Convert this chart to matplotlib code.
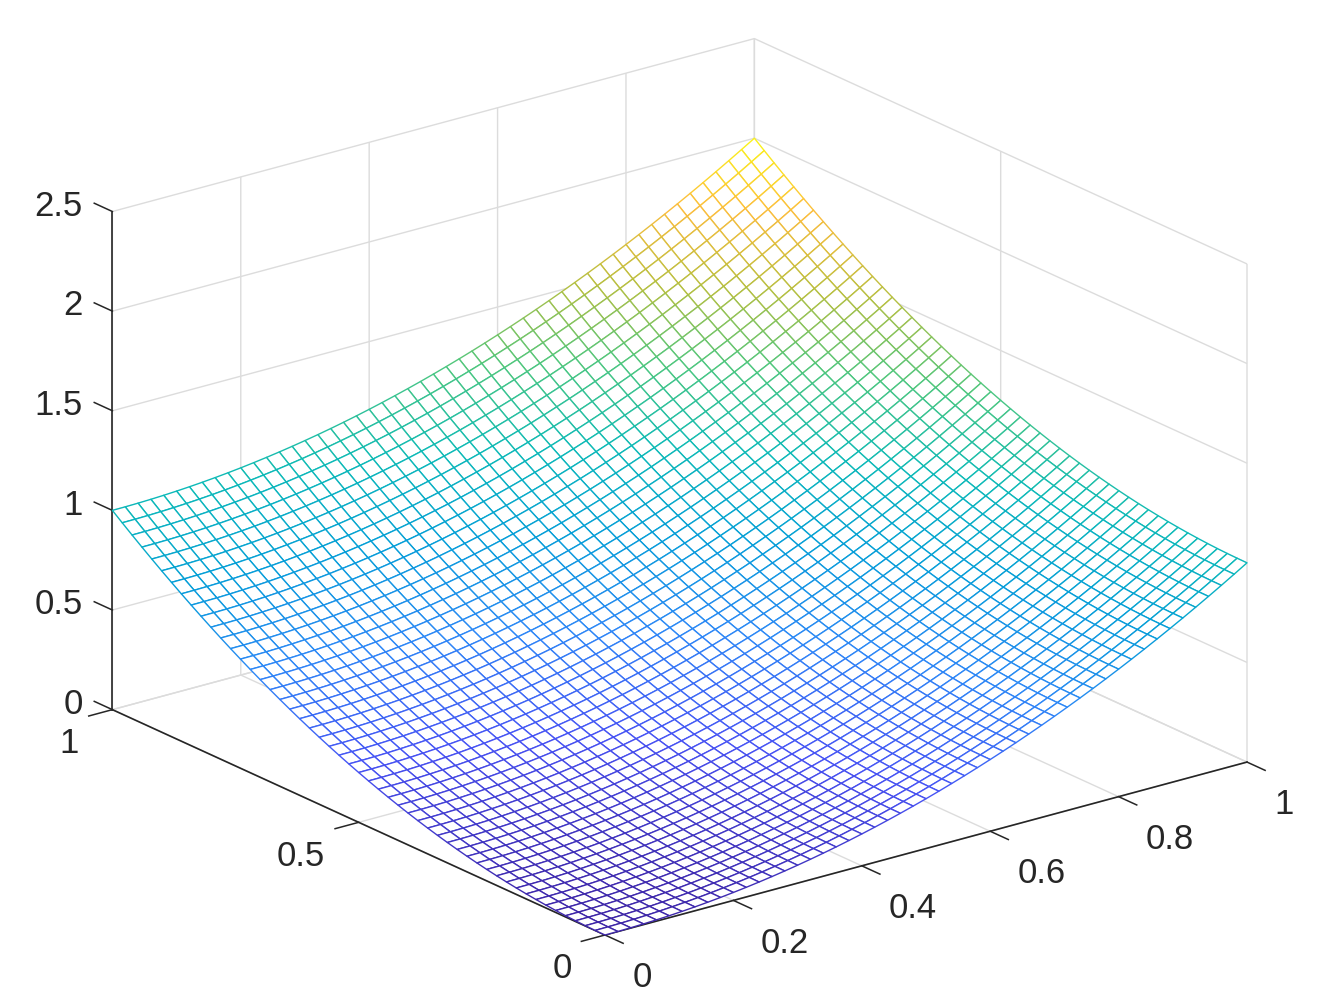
import numpy as np
import matplotlib
matplotlib.use("Agg")
import matplotlib.pyplot as plt
from matplotlib.colors import LinearSegmentedColormap
from mpl_toolkits.mplot3d import proj3d

plt.rcParams['font.family'] = ['Liberation Sans', 'DejaVu Sans']
plt.rcParams['grid.color'] = '#dcdcdc'
plt.rcParams['grid.linewidth'] = 1.0

x_values = [0,.02,.04,.06,.08,.1,.12,.14,.16,.18,.2,.22,.24,.26,.28,.3,.32,.34,.36,.38,.4,.42,.44,.46,.48,.5,.52,.54,.56,.58,.6,.62,.64,.66,.68,.7,.72,.74,.76,.78,.8,.82,.84,.86,.88,.9,.92,.94,.96,.98,1]
y_values = [0,.02,.04,.06,.08,.1,.12,.14,.16,.18,.2,.22,.24,.26,.28,.3,.32,.34,.36,.38,.4,.42,.44,.46,.48,.5,.52,.54,.56,.58,.6,.62,.64,.66,.68,.7,.72,.74,.76,.78,.8,.82,.84,.86,.88,.9,.92,.94,.96,.98,1]
# Surface heights, in units of 1/10000
z_rows = [
[0,4,16,36,64,100,144,196,256,324,400,484,576,676,784,900,1024,1156,1296,1444,1600,1764,1936,2116,2304,2500,2704,2916,3136,3364,3600,3844,4096,4356,4624,4900,5184,5476,5776,6084,6400,6724,7056,7396,7744,8100,8464,8836,9216,9604,10000],
[4,8,20,40,68,104,148,200,260,328,404,488,580,680,788,904,1028,1160,1300,1448,1604,1768,1940,2120,2308,2504,2708,2920,3140,3368,3604,3848,4100,4360,4628,4904,5188,5480,5780,6088,6404,6728,7060,7400,7748,8104,8468,8840,9220,9608,10004],
[16,20,32,52,80,116,160,212,272,340,416,500,592,692,800,916,1040,1172,1312,1460,1616,1780,1952,2132,2320,2516,2720,2932,3152,3380,3616,3860,4112,4372,4640,4916,5200,5492,5792,6100,6416,6740,7072,7412,7760,8116,8480,8852,9232,9620,10016],
[36,40,52,72,100,136,180,232,292,360,436,520,612,712,820,936,1060,1192,1332,1480,1636,1800,1972,2152,2340,2536,2740,2952,3172,3400,3636,3880,4132,4392,4660,4936,5220,5512,5812,6120,6436,6760,7092,7432,7780,8136,8500,8872,9252,9640,10036],
[64,68,80,100,128,164,208,260,320,388,464,548,640,740,848,964,1088,1220,1360,1508,1664,1828,2000,2180,2368,2564,2768,2980,3200,3428,3664,3908,4160,4420,4688,4964,5248,5540,5840,6148,6464,6788,7120,7460,7808,8164,8528,8900,9280,9668,10064],
[100,104,116,136,164,200,244,296,356,424,500,584,676,776,884,1000,1124,1256,1396,1544,1700,1864,2036,2216,2404,2600,2804,3016,3236,3464,3700,3944,4196,4456,4724,5000,5284,5576,5876,6184,6500,6824,7156,7496,7844,8200,8564,8936,9316,9704,10100],
[144,148,160,180,208,244,288,340,400,468,544,628,720,820,928,1044,1168,1300,1440,1588,1744,1908,2080,2260,2448,2644,2848,3060,3280,3508,3744,3988,4240,4500,4768,5044,5328,5620,5920,6228,6544,6868,7200,7540,7888,8244,8608,8980,9360,9748,10144],
[196,200,212,232,260,296,340,392,452,520,596,680,772,872,980,1096,1220,1352,1492,1640,1796,1960,2132,2312,2500,2696,2900,3112,3332,3560,3796,4040,4292,4552,4820,5096,5380,5672,5972,6280,6596,6920,7252,7592,7940,8296,8660,9032,9412,9800,10196],
[256,260,272,292,320,356,400,452,512,580,656,740,832,932,1040,1156,1280,1412,1552,1700,1856,2020,2192,2372,2560,2756,2960,3172,3392,3620,3856,4100,4352,4612,4880,5156,5440,5732,6032,6340,6656,6980,7312,7652,8000,8356,8720,9092,9472,9860,10256],
[324,328,340,360,388,424,468,520,580,648,724,808,900,1000,1108,1224,1348,1480,1620,1768,1924,2088,2260,2440,2628,2824,3028,3240,3460,3688,3924,4168,4420,4680,4948,5224,5508,5800,6100,6408,6724,7048,7380,7720,8068,8424,8788,9160,9540,9928,10324],
[400,404,416,436,464,500,544,596,656,724,800,884,976,1076,1184,1300,1424,1556,1696,1844,2000,2164,2336,2516,2704,2900,3104,3316,3536,3764,4000,4244,4496,4756,5024,5300,5584,5876,6176,6484,6800,7124,7456,7796,8144,8500,8864,9236,9616,10004,10400],
[484,488,500,520,548,584,628,680,740,808,884,968,1060,1160,1268,1384,1508,1640,1780,1928,2084,2248,2420,2600,2788,2984,3188,3400,3620,3848,4084,4328,4580,4840,5108,5384,5668,5960,6260,6568,6884,7208,7540,7880,8228,8584,8948,9320,9700,10088,10484],
[576,580,592,612,640,676,720,772,832,900,976,1060,1152,1252,1360,1476,1600,1732,1872,2020,2176,2340,2512,2692,2880,3076,3280,3492,3712,3940,4176,4420,4672,4932,5200,5476,5760,6052,6352,6660,6976,7300,7632,7972,8320,8676,9040,9412,9792,10180,10576],
[676,680,692,712,740,776,820,872,932,1000,1076,1160,1252,1352,1460,1576,1700,1832,1972,2120,2276,2440,2612,2792,2980,3176,3380,3592,3812,4040,4276,4520,4772,5032,5300,5576,5860,6152,6452,6760,7076,7400,7732,8072,8420,8776,9140,9512,9892,10280,10676],
[784,788,800,820,848,884,928,980,1040,1108,1184,1268,1360,1460,1568,1684,1808,1940,2080,2228,2384,2548,2720,2900,3088,3284,3488,3700,3920,4148,4384,4628,4880,5140,5408,5684,5968,6260,6560,6868,7184,7508,7840,8180,8528,8884,9248,9620,10000,10388,10784],
[900,904,916,936,964,1000,1044,1096,1156,1224,1300,1384,1476,1576,1684,1800,1924,2056,2196,2344,2500,2664,2836,3016,3204,3400,3604,3816,4036,4264,4500,4744,4996,5256,5524,5800,6084,6376,6676,6984,7300,7624,7956,8296,8644,9000,9364,9736,10116,10504,10900],
[1024,1028,1040,1060,1088,1124,1168,1220,1280,1348,1424,1508,1600,1700,1808,1924,2048,2180,2320,2468,2624,2788,2960,3140,3328,3524,3728,3940,4160,4388,4624,4868,5120,5380,5648,5924,6208,6500,6800,7108,7424,7748,8080,8420,8768,9124,9488,9860,10240,10628,11024],
[1156,1160,1172,1192,1220,1256,1300,1352,1412,1480,1556,1640,1732,1832,1940,2056,2180,2312,2452,2600,2756,2920,3092,3272,3460,3656,3860,4072,4292,4520,4756,5000,5252,5512,5780,6056,6340,6632,6932,7240,7556,7880,8212,8552,8900,9256,9620,9992,10372,10760,11156],
[1296,1300,1312,1332,1360,1396,1440,1492,1552,1620,1696,1780,1872,1972,2080,2196,2320,2452,2592,2740,2896,3060,3232,3412,3600,3796,4000,4212,4432,4660,4896,5140,5392,5652,5920,6196,6480,6772,7072,7380,7696,8020,8352,8692,9040,9396,9760,10132,10512,10900,11296],
[1444,1448,1460,1480,1508,1544,1588,1640,1700,1768,1844,1928,2020,2120,2228,2344,2468,2600,2740,2888,3044,3208,3380,3560,3748,3944,4148,4360,4580,4808,5044,5288,5540,5800,6068,6344,6628,6920,7220,7528,7844,8168,8500,8840,9188,9544,9908,10280,10660,11048,11444],
[1600,1604,1616,1636,1664,1700,1744,1796,1856,1924,2000,2084,2176,2276,2384,2500,2624,2756,2896,3044,3200,3364,3536,3716,3904,4100,4304,4516,4736,4964,5200,5444,5696,5956,6224,6500,6784,7076,7376,7684,8000,8324,8656,8996,9344,9700,10064,10436,10816,11204,11600],
[1764,1768,1780,1800,1828,1864,1908,1960,2020,2088,2164,2248,2340,2440,2548,2664,2788,2920,3060,3208,3364,3528,3700,3880,4068,4264,4468,4680,4900,5128,5364,5608,5860,6120,6388,6664,6948,7240,7540,7848,8164,8488,8820,9160,9508,9864,10228,10600,10980,11368,11764],
[1936,1940,1952,1972,2000,2036,2080,2132,2192,2260,2336,2420,2512,2612,2720,2836,2960,3092,3232,3380,3536,3700,3872,4052,4240,4436,4640,4852,5072,5300,5536,5780,6032,6292,6560,6836,7120,7412,7712,8020,8336,8660,8992,9332,9680,10036,10400,10772,11152,11540,11936],
[2116,2120,2132,2152,2180,2216,2260,2312,2372,2440,2516,2600,2692,2792,2900,3016,3140,3272,3412,3560,3716,3880,4052,4232,4420,4616,4820,5032,5252,5480,5716,5960,6212,6472,6740,7016,7300,7592,7892,8200,8516,8840,9172,9512,9860,10216,10580,10952,11332,11720,12116],
[2304,2308,2320,2340,2368,2404,2448,2500,2560,2628,2704,2788,2880,2980,3088,3204,3328,3460,3600,3748,3904,4068,4240,4420,4608,4804,5008,5220,5440,5668,5904,6148,6400,6660,6928,7204,7488,7780,8080,8388,8704,9028,9360,9700,10048,10404,10768,11140,11520,11908,12304],
[2500,2504,2516,2536,2564,2600,2644,2696,2756,2824,2900,2984,3076,3176,3284,3400,3524,3656,3796,3944,4100,4264,4436,4616,4804,5000,5204,5416,5636,5864,6100,6344,6596,6856,7124,7400,7684,7976,8276,8584,8900,9224,9556,9896,10244,10600,10964,11336,11716,12104,12500],
[2704,2708,2720,2740,2768,2804,2848,2900,2960,3028,3104,3188,3280,3380,3488,3604,3728,3860,4000,4148,4304,4468,4640,4820,5008,5204,5408,5620,5840,6068,6304,6548,6800,7060,7328,7604,7888,8180,8480,8788,9104,9428,9760,10100,10448,10804,11168,11540,11920,12308,12704],
[2916,2920,2932,2952,2980,3016,3060,3112,3172,3240,3316,3400,3492,3592,3700,3816,3940,4072,4212,4360,4516,4680,4852,5032,5220,5416,5620,5832,6052,6280,6516,6760,7012,7272,7540,7816,8100,8392,8692,9000,9316,9640,9972,10312,10660,11016,11380,11752,12132,12520,12916],
[3136,3140,3152,3172,3200,3236,3280,3332,3392,3460,3536,3620,3712,3812,3920,4036,4160,4292,4432,4580,4736,4900,5072,5252,5440,5636,5840,6052,6272,6500,6736,6980,7232,7492,7760,8036,8320,8612,8912,9220,9536,9860,10192,10532,10880,11236,11600,11972,12352,12740,13136],
[3364,3368,3380,3400,3428,3464,3508,3560,3620,3688,3764,3848,3940,4040,4148,4264,4388,4520,4660,4808,4964,5128,5300,5480,5668,5864,6068,6280,6500,6728,6964,7208,7460,7720,7988,8264,8548,8840,9140,9448,9764,10088,10420,10760,11108,11464,11828,12200,12580,12968,13364],
[3600,3604,3616,3636,3664,3700,3744,3796,3856,3924,4000,4084,4176,4276,4384,4500,4624,4756,4896,5044,5200,5364,5536,5716,5904,6100,6304,6516,6736,6964,7200,7444,7696,7956,8224,8500,8784,9076,9376,9684,10000,10324,10656,10996,11344,11700,12064,12436,12816,13204,13600],
[3844,3848,3860,3880,3908,3944,3988,4040,4100,4168,4244,4328,4420,4520,4628,4744,4868,5000,5140,5288,5444,5608,5780,5960,6148,6344,6548,6760,6980,7208,7444,7688,7940,8200,8468,8744,9028,9320,9620,9928,10244,10568,10900,11240,11588,11944,12308,12680,13060,13448,13844],
[4096,4100,4112,4132,4160,4196,4240,4292,4352,4420,4496,4580,4672,4772,4880,4996,5120,5252,5392,5540,5696,5860,6032,6212,6400,6596,6800,7012,7232,7460,7696,7940,8192,8452,8720,8996,9280,9572,9872,10180,10496,10820,11152,11492,11840,12196,12560,12932,13312,13700,14096],
[4356,4360,4372,4392,4420,4456,4500,4552,4612,4680,4756,4840,4932,5032,5140,5256,5380,5512,5652,5800,5956,6120,6292,6472,6660,6856,7060,7272,7492,7720,7956,8200,8452,8712,8980,9256,9540,9832,10132,10440,10756,11080,11412,11752,12100,12456,12820,13192,13572,13960,14356],
[4624,4628,4640,4660,4688,4724,4768,4820,4880,4948,5024,5108,5200,5300,5408,5524,5648,5780,5920,6068,6224,6388,6560,6740,6928,7124,7328,7540,7760,7988,8224,8468,8720,8980,9248,9524,9808,10100,10400,10708,11024,11348,11680,12020,12368,12724,13088,13460,13840,14228,14624],
[4900,4904,4916,4936,4964,5000,5044,5096,5156,5224,5300,5384,5476,5576,5684,5800,5924,6056,6196,6344,6500,6664,6836,7016,7204,7400,7604,7816,8036,8264,8500,8744,8996,9256,9524,9800,10084,10376,10676,10984,11300,11624,11956,12296,12644,13000,13364,13736,14116,14504,14900],
[5184,5188,5200,5220,5248,5284,5328,5380,5440,5508,5584,5668,5760,5860,5968,6084,6208,6340,6480,6628,6784,6948,7120,7300,7488,7684,7888,8100,8320,8548,8784,9028,9280,9540,9808,10084,10368,10660,10960,11268,11584,11908,12240,12580,12928,13284,13648,14020,14400,14788,15184],
[5476,5480,5492,5512,5540,5576,5620,5672,5732,5800,5876,5960,6052,6152,6260,6376,6500,6632,6772,6920,7076,7240,7412,7592,7780,7976,8180,8392,8612,8840,9076,9320,9572,9832,10100,10376,10660,10952,11252,11560,11876,12200,12532,12872,13220,13576,13940,14312,14692,15080,15476],
[5776,5780,5792,5812,5840,5876,5920,5972,6032,6100,6176,6260,6352,6452,6560,6676,6800,6932,7072,7220,7376,7540,7712,7892,8080,8276,8480,8692,8912,9140,9376,9620,9872,10132,10400,10676,10960,11252,11552,11860,12176,12500,12832,13172,13520,13876,14240,14612,14992,15380,15776],
[6084,6088,6100,6120,6148,6184,6228,6280,6340,6408,6484,6568,6660,6760,6868,6984,7108,7240,7380,7528,7684,7848,8020,8200,8388,8584,8788,9000,9220,9448,9684,9928,10180,10440,10708,10984,11268,11560,11860,12168,12484,12808,13140,13480,13828,14184,14548,14920,15300,15688,16084],
[6400,6404,6416,6436,6464,6500,6544,6596,6656,6724,6800,6884,6976,7076,7184,7300,7424,7556,7696,7844,8000,8164,8336,8516,8704,8900,9104,9316,9536,9764,10000,10244,10496,10756,11024,11300,11584,11876,12176,12484,12800,13124,13456,13796,14144,14500,14864,15236,15616,16004,16400],
[6724,6728,6740,6760,6788,6824,6868,6920,6980,7048,7124,7208,7300,7400,7508,7624,7748,7880,8020,8168,8324,8488,8660,8840,9028,9224,9428,9640,9860,10088,10324,10568,10820,11080,11348,11624,11908,12200,12500,12808,13124,13448,13780,14120,14468,14824,15188,15560,15940,16328,16724],
[7056,7060,7072,7092,7120,7156,7200,7252,7312,7380,7456,7540,7632,7732,7840,7956,8080,8212,8352,8500,8656,8820,8992,9172,9360,9556,9760,9972,10192,10420,10656,10900,11152,11412,11680,11956,12240,12532,12832,13140,13456,13780,14112,14452,14800,15156,15520,15892,16272,16660,17056],
[7396,7400,7412,7432,7460,7496,7540,7592,7652,7720,7796,7880,7972,8072,8180,8296,8420,8552,8692,8840,8996,9160,9332,9512,9700,9896,10100,10312,10532,10760,10996,11240,11492,11752,12020,12296,12580,12872,13172,13480,13796,14120,14452,14792,15140,15496,15860,16232,16612,17000,17396],
[7744,7748,7760,7780,7808,7844,7888,7940,8000,8068,8144,8228,8320,8420,8528,8644,8768,8900,9040,9188,9344,9508,9680,9860,10048,10244,10448,10660,10880,11108,11344,11588,11840,12100,12368,12644,12928,13220,13520,13828,14144,14468,14800,15140,15488,15844,16208,16580,16960,17348,17744],
[8100,8104,8116,8136,8164,8200,8244,8296,8356,8424,8500,8584,8676,8776,8884,9000,9124,9256,9396,9544,9700,9864,10036,10216,10404,10600,10804,11016,11236,11464,11700,11944,12196,12456,12724,13000,13284,13576,13876,14184,14500,14824,15156,15496,15844,16200,16564,16936,17316,17704,18100],
[8464,8468,8480,8500,8528,8564,8608,8660,8720,8788,8864,8948,9040,9140,9248,9364,9488,9620,9760,9908,10064,10228,10400,10580,10768,10964,11168,11380,11600,11828,12064,12308,12560,12820,13088,13364,13648,13940,14240,14548,14864,15188,15520,15860,16208,16564,16928,17300,17680,18068,18464],
[8836,8840,8852,8872,8900,8936,8980,9032,9092,9160,9236,9320,9412,9512,9620,9736,9860,9992,10132,10280,10436,10600,10772,10952,11140,11336,11540,11752,11972,12200,12436,12680,12932,13192,13460,13736,14020,14312,14612,14920,15236,15560,15892,16232,16580,16936,17300,17672,18052,18440,18836],
[9216,9220,9232,9252,9280,9316,9360,9412,9472,9540,9616,9700,9792,9892,10000,10116,10240,10372,10512,10660,10816,10980,11152,11332,11520,11716,11920,12132,12352,12580,12816,13060,13312,13572,13840,14116,14400,14692,14992,15300,15616,15940,16272,16612,16960,17316,17680,18052,18432,18820,19216],
[9604,9608,9620,9640,9668,9704,9748,9800,9860,9928,10004,10088,10180,10280,10388,10504,10628,10760,10900,11048,11204,11368,11540,11720,11908,12104,12308,12520,12740,12968,13204,13448,13700,13960,14228,14504,14788,15080,15380,15688,16004,16328,16660,17000,17348,17704,18068,18440,18820,19208,19604],
[10000,10004,10016,10036,10064,10100,10144,10196,10256,10324,10400,10484,10576,10676,10784,10900,11024,11156,11296,11444,11600,11764,11936,12116,12304,12500,12704,12916,13136,13364,13600,13844,14096,14356,14624,14900,15184,15476,15776,16084,16400,16724,17056,17396,17744,18100,18464,18836,19216,19604,20000],
]
x_ticks = [0, .2, .4, .6, .8, 1]
y_ticks = [0, .5, 1]
z_ticks = [0, .5, 1, 1.5, 2, 2.5]
x_labels = ['0', '0.2', '0.4', '0.6', '0.8', '1']
y_labels = ['0', '0.5', '1']
z_labels = ['0', '0.5', '1', '1.5', '2', '2.5']

parula = LinearSegmentedColormap.from_list('parula', [
 (.2422,.1504,.6603),(.2810,.3228,.9579),(.1786,.5289,.9682),(.02,.62,.85),
 (.05,.73,.72),(.30,.78,.50),(.72,.75,.25),(.99,.74,.24),(.9769,.9839,.0805)])

W, H = 1340, 1008
fig = plt.figure(figsize=(W/100, H/100), dpi=100, facecolor='white')
ax = fig.add_axes([0, 0, 1, 1], projection='3d', proj_type='ortho', computed_zorder=False)
ax.view_init(elev=20.55, azim=-127.5)
ax.set_box_aspect((1, 1, .6574))
ax.set_facecolor('none')

X, Y = np.meshgrid(x_values, y_values)
Z = np.array(z_rows) / 10000
surf = ax.plot_surface(X, Y, Z, rstride=1, cstride=1, color='white', shade=False, linewidth=1.0)
mid = (Z[:-1, :-1] + Z[1:, :-1] + Z[:-1, 1:] + Z[1:, 1:]) / 4
surf.set_edgecolors(parula(mid.ravel() / 2.0))
surf.set_facecolors('white')

ax.set_xlim(0, 1); ax.set_ylim(0, 1); ax.set_zlim(0, 2.5)
ax.set_xticks(x_ticks, x_labels)
ax.set_yticks(y_ticks, y_labels)
ax.set_zticks(z_ticks, z_labels)
for a in (ax.xaxis, ax.yaxis, ax.zaxis):
    a.set_pane_color((1, 1, 1, 0))
    a.pane.set_edgecolor('#d4d4d4')
    a.line.set_color('#262626')
    a.line.set_linewidth(1.2)
    a._axinfo['tick']['linewidth'] = {True: 1.1, False: 0.5}
for a in (ax.xaxis, ax.yaxis):
    a._axinfo['tick']['outward_factor'] = 0
    a._axinfo['tick']['inward_factor'] = 0.46
ax.zaxis._axinfo['tick']['outward_factor'] = 0.46
ax.zaxis._axinfo['tick']['inward_factor'] = 0
ax.zaxis._get_tickdir = lambda pos: 1
ax.tick_params(labelsize=25, labelcolor='#262626', color='#262626', pad=8)

def nudge(axis, ha, dx, dy):
    for t in axis.get_major_ticks():
        lab = t.label1
        lab.set_ha(ha)
        def moved(xy, orig=lab.set_position):
            p = ax.transData.transform(xy) + (dx, dy)
            orig(ax.transData.inverted().transform(p))
        lab.set_position = moved

nudge(ax.xaxis, 'left', 10, -1)
nudge(ax.yaxis, 'right', -11, 6)
nudge(ax.zaxis, 'right', 10, 20)

def px(x, y, z):
    a, b, _ = proj3d.proj_transform(x, y, z, ax.get_proj())
    return ax.transData.transform((a, b))

S = 1000.0
ax.set_position([.1, .1, S/W, S/H])
fig.canvas.draw()
f = 642 / (px(1, 0, 0)[0] - px(0, 0, 0)[0])
S *= f
ax.set_position([.1, .1, S/W, S/H])
fig.canvas.draw()
o = px(0, 0, 0)
ax.set_position([.1 + (605 - o[0])/W, .1 + (H - 935 - o[1])/H, S/W, S/H])
fig.savefig('out.png', dpi=100)
